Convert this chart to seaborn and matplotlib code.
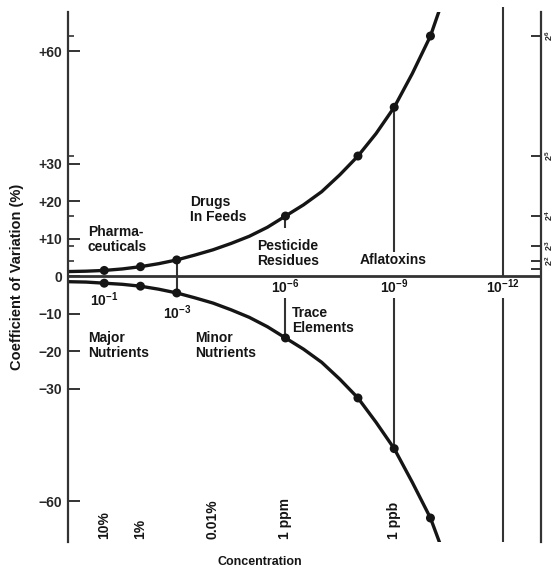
import matplotlib
matplotlib.use('Agg')
import matplotlib.pyplot as plt
import seaborn as sns
import pandas as pd

# log10 of concentration
curve_logc = [0, -0.5, -1, -1.5, -2, -2.5, -3, -3.5, -4, -4.5, -5, -5.5, -6,
              -6.5, -7, -7.5, -8, -8.5, -9, -9.5, -10, -10.25]
curve_upper = [1.2, 1.3, 1.5, 1.9, 2.5, 3.3, 4.3, 5.6, 7.0, 8.7, 10.6, 13.0, 16,
               19, 22.5, 27, 32, 38, 45, 54, 64, 71]
curve_lower = [-1.5, -1.6, -1.9, -2.2, -2.7, -3.5, -4.5, -5.8, -7.2, -9, -11, -13.5, -16.5,
               -19.5, -23, -27.5, -32.5, -39, -46, -55, -64.5, -71]

# marked points
pts_logc = [-1, -2, -3, -6, -8, -9, -10]
pts_upper = [1.5, 2.5, 4.3, 16, 32, 45, 64]
pts_lower = [-1.9, -2.7, -4.5, -16.5, -32.5, -46, -64.5]

# left axis
cv_ticks = [60, 30, 20, 10, 0, -10, -20, -30, -60]
cv_labels = ['+60', '+30', '+20', '+10', '0', '\u221210', '\u221220', '\u221230', '\u221260']
pow2_ticks = [64, 32, 16, 8, 4, 2]
pow2_labels = ['$2^6$', '$2^5$', '$2^4$', '$2^3$', '$2^2$', '']

# decade marks on the zero line
decade_x = [-1, -3, -6, -9, -12]
decade_y = [-6.4, -9.9, -2.9, -2.9, -2.9]
decade_labels = ['$10^{-1}$', '$10^{-3}$', '$10^{-6}$', '$10^{-9}$', '$10^{-12}$']

# concentration units at the bottom
unit_x = [-1, -2, -4, -6, -9]
unit_labels = ['10%', '1%', '0.01%', '1 ppm', '1 ppb']

# vertical guide segments
guide_x = [-3, -6, -6, -9, -9, -12, -12]
guide_lo = [-4.5, 12.8, -16.5, 6.4, -46, 0, -70.9]
guide_hi = [4.3, 16, -5.9, 45, -5.9, 71.7, -5.9]

# analyte classes
class_names = ['Pharma-\nceuticals', 'Drugs\nIn Feeds', 'Pesticide\nResidues', 'Aflatoxins',
               'Major\nNutrients', 'Minor\nNutrients', 'Trace\nElements']
class_x = [-0.55, -3.37, -6.07, -8.97, -0.55, -3.5, -6.18]
class_y = [13.6, 21.6, 10.0, 6.2, -14.6, -14.6, -8.0]
class_ha = ['left', 'left', 'center', 'center', 'left', 'left', 'left']

sns.set_style('white')
plt.rcParams['font.family'] = ['Liberation Sans', 'DejaVu Sans']
plt.rcParams['font.weight'] = 'bold'
plt.rcParams['mathtext.fontset'] = 'custom'
plt.rcParams['mathtext.rm'] = 'Liberation Sans:bold'
plt.rcParams['mathtext.it'] = 'Liberation Sans:bold'
plt.rcParams['mathtext.bf'] = 'Liberation Sans:bold'
plt.rcParams['mathtext.default'] = 'rm'

ink = '#151515'
fs = 10

fig = plt.figure(figsize=(5.57, 5.71), dpi=100)
ax = fig.add_axes([68 / 557, 1 - 542 / 571, (541 - 68) / 557, (542 - 12) / 571])

curves = pd.DataFrame({'logc': curve_logc + curve_logc,
                       'cv': curve_upper + curve_lower,
                       'side': ['upper'] * len(curve_logc) + ['lower'] * len(curve_logc)})
sns.lineplot(data=curves, x='logc', y='cv', units='side', estimator=None, sort=False,
             color=ink, lw=2.4, ax=ax, legend=False)
sns.scatterplot(x=pts_logc + pts_logc, y=pts_upper + pts_lower, s=42, color=ink,
                edgecolor='none', zorder=5, ax=ax, legend=False)

ax.vlines(guide_x, guide_lo, guide_hi, color='#333333', lw=1.5, clip_on=False)
ax.axhline(0, color='#333333', lw=2.0)

ax.set_xlim(0, -13.05)
ax.set_ylim(-70.9, 70.4)
ax.set_xticks([])
ax.set_xlabel('')
ax.set_ylabel('')
for s in ['top', 'bottom']:
    ax.spines[s].set_visible(False)
for s in ['left', 'right']:
    ax.spines[s].set_color('#333333')
    ax.spines[s].set_linewidth(1.6)

ax.set_yticks(cv_ticks)
ax.set_yticklabels(cv_labels, fontsize=fs)
ax.set_yticks(pow2_ticks[:-1], minor=True)
ax.tick_params(axis='y', which='major', direction='in', length=8.5, width=1.4,
               color='#333333', pad=4, left=True, right=False)
ax.tick_params(axis='y', which='minor', direction='in', length=4.5, width=1.2,
               color='#333333', left=True, right=False)

ax2 = ax.twinx()
ax2.set_ylim(ax.get_ylim())
ax2.set_yticks(pow2_ticks)
ax2.set_yticklabels(pow2_labels, fontsize=6.5, rotation=90, va='center')
ax2.tick_params(axis='y', direction='in', length=7, width=1.4, color='#333333', pad=1.5)
for s in ['top', 'bottom', 'left', 'right']:
    ax2.spines[s].set_visible(False)

for x, y, t in zip(decade_x, decade_y, decade_labels):
    ax.text(x, y, t, fontsize=fs, ha='center', va='center', color=ink)

for x, t in zip(unit_x, unit_labels):
    ax.text(x, -70.2, t, fontsize=10, ha='center', va='bottom', rotation=90, color=ink)

for t, x, y, ha in zip(class_names, class_x, class_y, class_ha):
    ax.text(x, y, t, fontsize=fs, ha=ha, va='top', linespacing=1.1, color=ink)

fig.text(17 / 557, 1 - 277 / 571, 'Coefficient of Variation (%)', rotation=90,
         ha='center', va='center', fontsize=10.5, color=ink)
fig.text(260 / 557, 1 - 562 / 571, 'Concentration', ha='center', va='center',
         fontsize=9, color=ink)

fig.savefig('out.png', dpi=100, facecolor='white')
